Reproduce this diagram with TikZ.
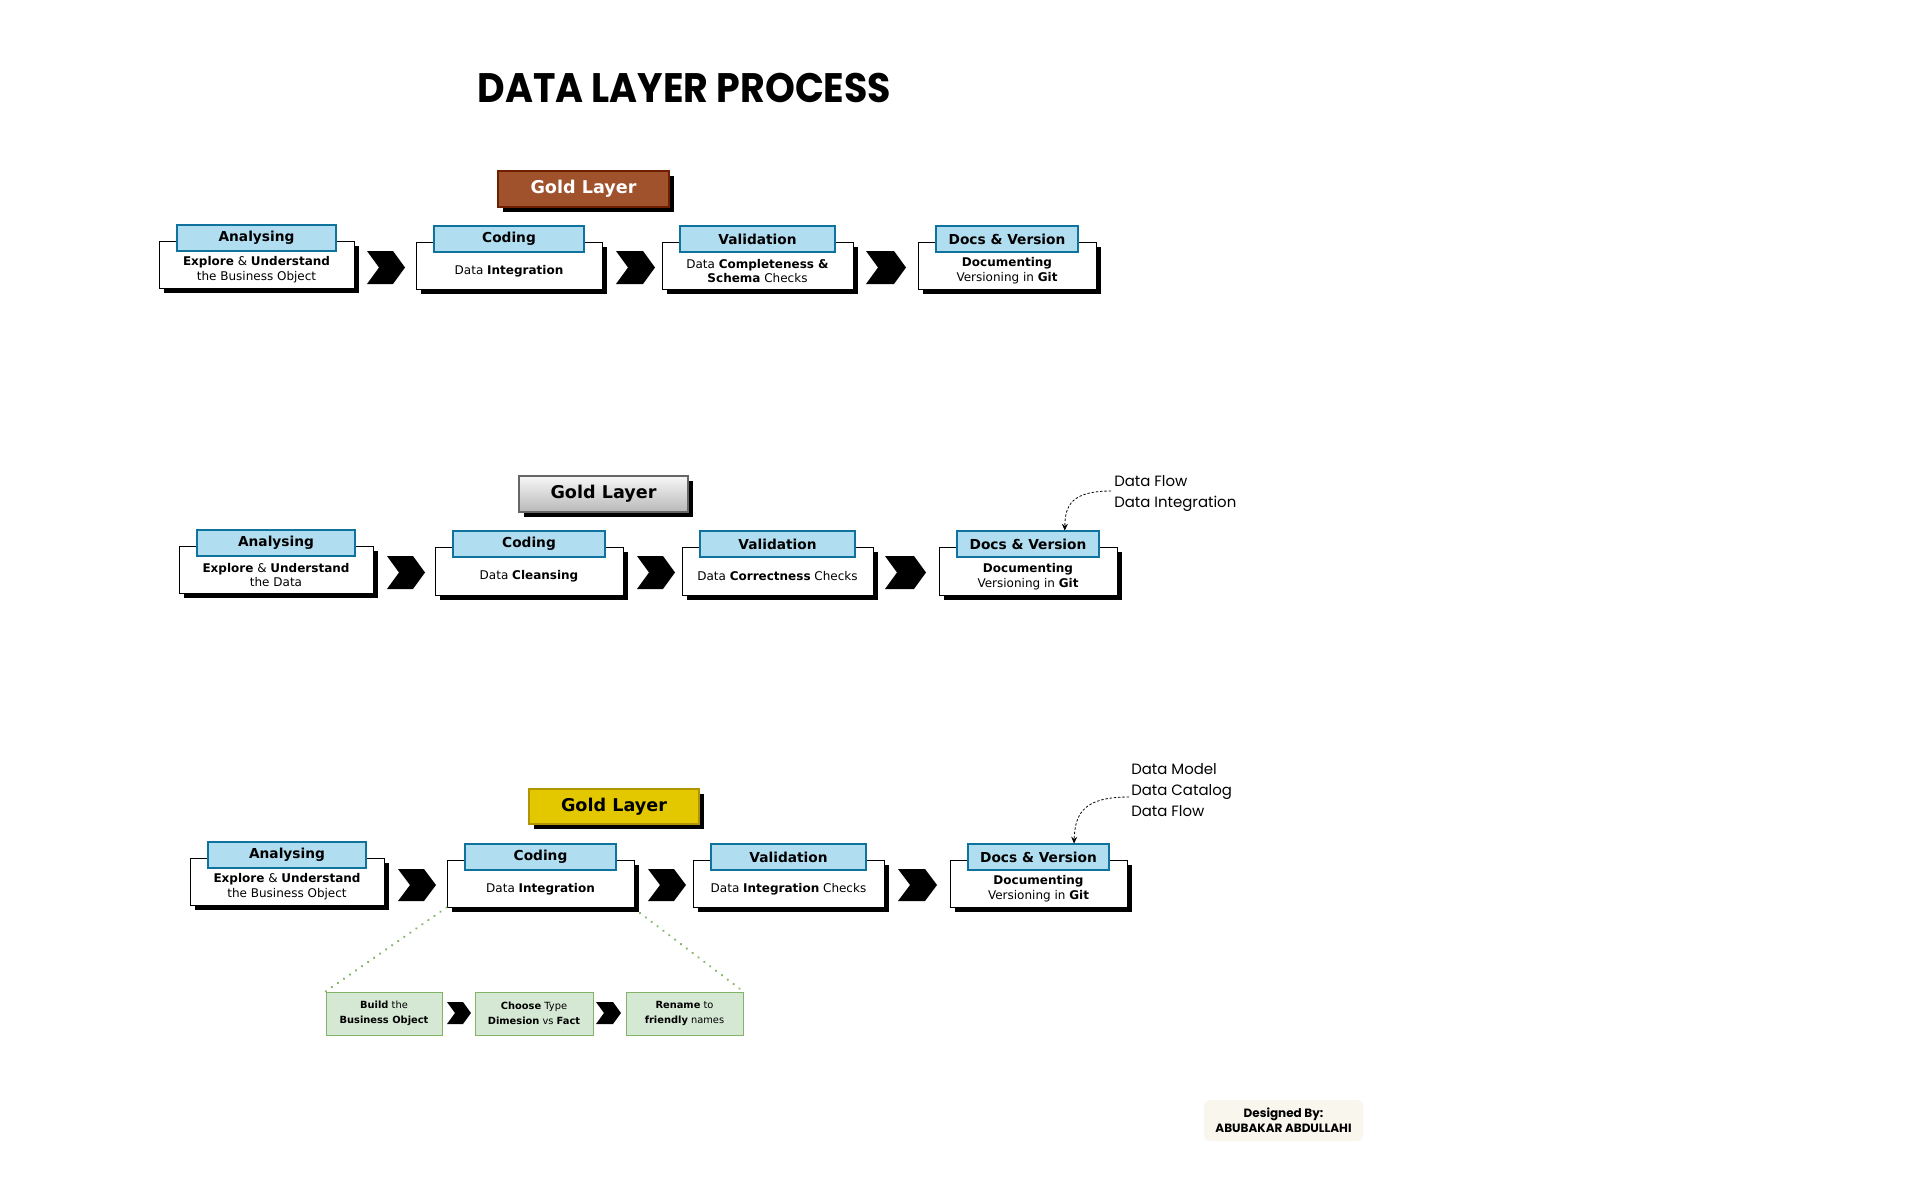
\documentclass[tikz,border=0pt]{standalone}
\usepackage{fontspec}
\usepackage{graphicx}
\setmainfont{DejaVu Sans}
\newfontfamily\comicf{Poppins}
\usetikzlibrary{calc,shadows,arrows.meta}
\definecolor{lblue}{HTML}{B1DDF0}
\definecolor{lblueb}{HTML}{10739E}
\definecolor{brownf}{HTML}{A0522D}
\definecolor{brownb}{HTML}{6D1F00}
\definecolor{yellowf}{HTML}{E3C800}
\definecolor{yellowb}{HTML}{B09500}
\definecolor{greenf}{HTML}{D5E8D4}
\definecolor{greenb}{HTML}{82B366}
\definecolor{beige}{HTML}{F9F7ED}
\tikzset{
  blackshadow/.style={drop shadow={shadow xshift=4pt,shadow yshift=-4pt,fill=black,opacity=1}},
  wbox/.style={draw=black,line width=0.7pt,fill=white,inner sep=0pt,blackshadow},
  lbox/.style={draw=lblueb,line width=0.8pt,fill=lblue,inner sep=0pt,font=\fontsize{10.3}{12}\selectfont\bfseries},
  btext/.style={align=center,inner sep=0pt,font=\fontsize{9}{11.2}\selectfont},
  layerbox/.style={line width=0.8pt,inner sep=0pt,blackshadow,font=\fontsize{13.2}{15}\selectfont\bfseries},
  gbox/.style={draw=greenb,line width=0.7pt,fill=greenf,inner sep=0pt,align=center,font=\fontsize{7.4}{11.2}\selectfont},
  anno/.style={inner sep=0pt,anchor=base west,font=\comicf\fontsize{11.2}{13}\selectfont},
  annoarrow/.style={black,line width=0.6pt,dash pattern=on 1.8pt off 1.4pt,-{Stealth[length=5pt,width=4.5pt]}},
  zoomline/.style={greenb,line width=1.9pt,dash pattern=on 0.01pt off 5.5pt,line cap=round},
}
% rectangle node from corner coordinates (in px)
\newcommand\boxat[6]{\node[#1,minimum width={((#5)-(#3))*0.75pt},minimum height={((#6)-(#4))*0.75pt}] (#2) at ({((#3)+(#5))/2},{((#4)+(#6))/2})}
\newcommand\stepblock[7]{%
  \boxat{wbox}{#1}{#2}{#3}{#4}{#5} {};
  \boxat{lbox}{#1l}{#2+18}{#3-16}{#4-18}{#3+10} {#6};
  \node[btext] (#1t) at ($(#1l.south)!0.5!(#1.south)$) {#7};
}
\newcommand\chev[5]{%
  \fill[black] (#1,#2) -- ({#3-#5},#2) -- (#3,{(#2+#4)/2}) -- ({#3-#5},#4) -- (#1,#4) -- ({#1+#5},{(#2+#4)/2}) -- cycle;
}
\begin{document}
\begin{tikzpicture}[x=0.75pt,y=-0.75pt]
\fill[white] (0,0) rectangle (1920,1200);
\useasboundingbox (0,0) rectangle (1920,1200);

% title
\node[inner sep=0pt] (title) at (684.5,88) {\resizebox{310pt}{22pt}{\comicf\bfseries DATA LAYER PROCESS}};

% ---------- row 1 ----------
\boxat{layerbox,draw=brownb,fill=brownf,text=white}{g1}{498}{171}{669}{207} {Gold Layer};
\stepblock{b11}{159}{241}{354}{288}{Analysing}{\textbf{Explore} \& \textbf{Understand}\\the Business Object}
\stepblock{b12}{416}{242}{602}{289}{Coding}{Data \textbf{Integration}}
\stepblock{b13}{662}{242}{853}{289}{Validation}{Data \textbf{Completeness \&}\\\textbf{Schema} Checks}
\stepblock{b14}{918}{242}{1096}{289}{Docs \& Version}{\textbf{Documenting}\\Versioning in \textbf{Git}}
\chev{367}{251}{405}{284}{12}
\chev{616}{251}{655}{284}{12}
\chev{866}{251}{906}{284}{12}

% ---------- row 2 ----------
\boxat{layerbox,draw=black!60,top color=black!3,bottom color=black!28}{g2}{519}{476}{688}{512} {Gold Layer};
\stepblock{b21}{179}{546}{373}{593}{Analysing}{\textbf{Explore} \& \textbf{Understand}\\the Data}
\stepblock{b22}{435}{547}{623}{595}{Coding}{Data \textbf{Cleansing}}
\stepblock{b23}{682}{547}{873}{595}{Validation}{Data \textbf{Correctness} Checks}
\stepblock{b24}{939}{547}{1117}{595}{Docs \& Version}{\textbf{Documenting}\\Versioning in \textbf{Git}}
\chev{387}{556}{425}{589}{12}
\chev{637}{556}{675}{589}{12}
\chev{885}{556}{926}{589}{12}

\node[anno] (a21) at (1114,486) {Data Flow};
\node[anno] (a22) at (1114,507) {Data Integration};
\coordinate (a2s) at (1111,491);
\draw[annoarrow] (a2s) .. controls (1072,491) and (1065,505) .. ($(b24l.north west)!0.757!(b24l.north east)$);

% ---------- row 3 ----------
\boxat{layerbox,draw=yellowb,fill=yellowf}{g3}{529}{789}{699}{824} {Gold Layer};
\stepblock{b31}{190}{858}{384}{905}{Analysing}{\textbf{Explore} \& \textbf{Understand}\\the Business Object}
\stepblock{b32}{447}{860}{634}{907}{Coding}{Data \textbf{Integration}}
\stepblock{b33}{693}{860}{884}{907}{Validation}{Data \textbf{Integration} Checks}
\stepblock{b34}{950}{860}{1127}{907}{Docs \& Version}{\textbf{Documenting}\\Versioning in \textbf{Git}}
\chev{398}{869}{436}{901}{12}
\chev{648}{869}{686}{901}{12}
\chev{898}{869}{937}{901}{12}

\node[anno] (a31) at (1131,774) {Data Model};
\node[anno] (a32) at (1131,795) {Data Catalog};
\node[anno] (a33) at (1131,816) {Data Flow};
\coordinate (a3s) at (1129,797);
\draw[annoarrow] (a3s) .. controls (1085,797) and (1075,812) .. ($(b34l.north west)!0.75!(b34l.north east)$);

% ---------- sub steps ----------
\boxat{gbox}{s1}{326}{992}{442}{1035} {\textbf{Build} the\\\textbf{Business Object}};
\boxat{gbox}{s2}{475}{992}{593}{1035} {\textbf{Choose} Type\\\textbf{Dimesion} vs \textbf{Fact}};
\boxat{gbox}{s3}{626}{992}{743}{1035} {\textbf{Rename} to\\\textbf{friendly} names};
\chev{447}{1002}{471}{1024}{8}
\chev{596}{1002}{621}{1024}{8}
\coordinate (zr) at (640,913);
\draw[zoomline] (b32.south west) -- (s1.north west);
\draw[zoomline] (zr) -- (s3.north east);

% ---------- credit ----------
\boxat{fill=beige,rounded corners=4pt,inner sep=0pt,align=center,font=\comicf\bfseries\fontsize{9}{11}\selectfont}{credit}{1204}{1100}{1363}{1141} {Designed By:\\ABUBAKAR ABDULLAHI};
\end{tikzpicture}
\end{document}
